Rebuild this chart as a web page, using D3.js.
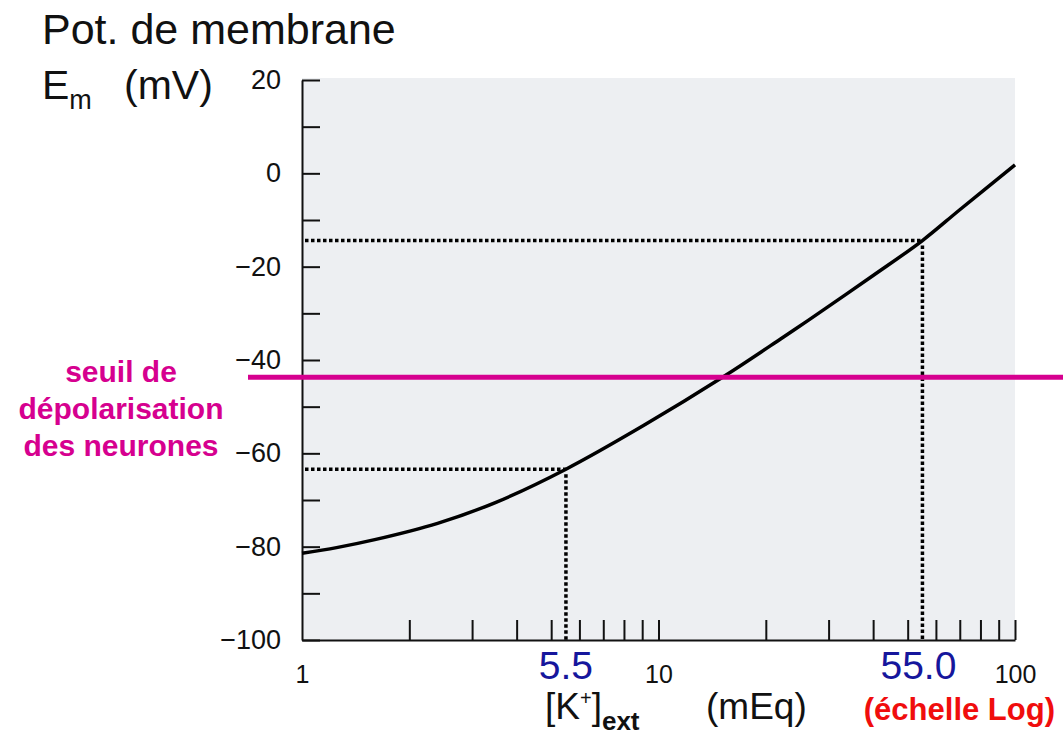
<!DOCTYPE html>
<html>
<head>
<meta charset="utf-8">
<script src="https://cdn.jsdelivr.net/npm/d3@7"></script>
<style>
  body { margin: 0; background: #fff; }
  text { font-family: "Liberation Sans", Arial, Helvetica, sans-serif; }
</style>
</head>
<body>
<svg id="chart" width="1063" height="736"></svg>
<script>
// curve: [K+]ext (mEq) -> Em (mV)
let kExt = [1, 1.25, 1.6, 2.4, 3.5, 5.5, 9.1, 15.2, 22, 26.3, 40, 55, 70, 100];
let emMV = [-81.4, -80.2, -78.5, -75, -70.5, -63.4, -54, -43.6, -35.5, -31.5, -21.9, -14.4, -7.8, 1.8];

// dotted guides
let markK = [5.5, 55];
let markEm = [-63.4, -14.4];
let markLabels = ['5.5', '55.0'];

// threshold
let seuil = -43.7;
let seuilLines = ['seuil de', 'dépolarisation', 'des neurones'];

// ticks
let yTicks = [20, 10, 0, -10, -20, -30, -40, -50, -60, -70, -80, -90, -100];
let yTickLabels = [20, 0, -20, -40, -60, -80, -100];
let xTicks = [1, 2, 3, 4, 5, 6, 7, 8, 9, 10, 20, 30, 40, 50, 60, 70, 80, 90, 100];
let xTickLabels = [1, 10, 100];

let svg = d3.select('#chart');
let [W, H] = [1063, 736];
let plot = {left: 302, right: 1015, top: 80, bottom: 640};

let x = d3.scaleLog().domain([1, 100]).range([plot.left, plot.right]);
let y = d3.scaleLinear().domain([-100, 20]).range([plot.bottom, plot.top]);

// background of the plot
svg.append('rect')
  .attr('x', plot.left).attr('y', plot.top - 2)
  .attr('width', plot.right - plot.left).attr('height', plot.bottom - plot.top + 2)
  .attr('fill', '#edeff2');

// y axis, ticks inward
let yAxis = d3.axisLeft(y)
  .tickValues(yTicks)
  .tickSizeInner(-18).tickSizeOuter(0)
  .tickPadding(21)
  .tickFormat(d => yTickLabels.includes(d) ? d3.format('')(d) : '');
let gy = svg.append('g').attr('transform', `translate(${plot.left},0)`).call(yAxis)
  .attr('font-size', 27).attr('font-family', null);
gy.select('.domain').attr('stroke', '#111').attr('stroke-width', 2);
gy.selectAll('.tick line').attr('stroke', '#111').attr('stroke-width', 2);
gy.selectAll('.tick text').attr('fill', '#111').attr('font-size', 27);

// x axis, ticks inward (up)
let xAxis = d3.axisBottom(x)
  .tickValues(xTicks)
  .tickSizeInner(-20).tickSizeOuter(0)
  .tickPadding(25)
  .tickFormat(d => xTickLabels.includes(d) ? String(d) : '');
let gx = svg.append('g').attr('transform', `translate(0,${plot.bottom})`).call(xAxis)
  .attr('font-size', 25).attr('font-family', null);
gx.select('.domain').attr('stroke', '#111').attr('stroke-width', 2);
gx.selectAll('.tick line').attr('stroke', '#111').attr('stroke-width', 2);
gx.selectAll('.tick line').filter(d => d === 1).remove();
gx.selectAll('.tick text').attr('fill', '#111').attr('font-size', 25);

// dotted guides
let marks = markK.map((k, i) => ({k, em: markEm[i], label: markLabels[i]}));
svg.selectAll('.guideH').data(marks).join('line')
  .attr('class', 'guideH')
  .attr('x1', plot.left + 3).attr('x2', d => x(d.k))
  .attr('y1', d => y(d.em)).attr('y2', d => y(d.em))
  .attr('stroke', '#000').attr('stroke-width', 3.5).attr('stroke-dasharray', '3.5 2.5');
svg.selectAll('.guideV').data(marks).join('line')
  .attr('class', 'guideV')
  .attr('x1', d => x(d.k)).attr('x2', d => x(d.k))
  .attr('y1', d => y(d.em) + 5).attr('y2', plot.bottom)
  .attr('stroke', '#000').attr('stroke-width', 3.5).attr('stroke-dasharray', '3.5 2.5');

// the curve
let pts = kExt.map((k, i) => [k, emMV[i]]);
let line = d3.line().x(d => x(d[0])).y(d => y(d[1])).curve(d3.curveCatmullRom.alpha(0.5));
svg.append('path').datum(pts)
  .attr('d', line)
  .attr('fill', 'none').attr('stroke', '#000').attr('stroke-width', 3.5);

// threshold line
let pink = '#d6008f';
svg.append('line')
  .attr('x1', 248).attr('x2', W)
  .attr('y1', y(seuil)).attr('y2', y(seuil))
  .attr('stroke', pink).attr('stroke-width', 5);

svg.selectAll('.seuil').data(seuilLines).join('text')
  .attr('class', 'seuil')
  .attr('x', 121).attr('y', (d, i) => 382 + i * 37)
  .attr('text-anchor', 'middle')
  .attr('fill', pink).style('font-size', '30px').style('font-weight', 'bold')
  .text(d => d);

// blue values under the guides
svg.selectAll('.markLabel').data(marks).join('text')
  .attr('class', 'markLabel')
  .attr('x', (d, i) => x(d.k) - (i ? 4 : 0)).attr('y', 679)
  .attr('text-anchor', 'middle')
  .attr('fill', '#16169c').style('font-size', '39px')
  .text(d => d.label);

// y title
svg.append('text').attr('x', 42).attr('y', 44)
  .attr('fill', '#111').style('font-size', '43px')
  .text('Pot. de membrane');
let em = svg.append('text').attr('x', 42).attr('y', 99)
  .attr('fill', '#111').style('font-size', '41px');
em.append('tspan').text('E');
em.append('tspan').attr('dy', 10).style('font-size', '27px').text('m');
em.append('tspan').attr('x', 124).attr('dy', -10).text('(mV)');

// x title
let kt = svg.append('text').attr('x', 545).attr('y', 719)
  .attr('fill', '#111').style('font-size', '37px');
kt.append('tspan').text('[K');
kt.append('tspan').attr('dy', -14).style('font-size', '20px').text('+');
kt.append('tspan').attr('dy', 14).text(']');
kt.append('tspan').attr('dy', 11).style('font-size', '26px').style('font-weight', 'bold').text('ext');
svg.append('text').attr('x', 706).attr('y', 719)
  .attr('fill', '#111').style('font-size', '37px')
  .text('(mEq)');
svg.append('text').attr('x', 1055).attr('y', 720)
  .attr('text-anchor', 'end')
  .attr('fill', '#f00d0d').style('font-size', '31px').style('font-weight', 'bold')
  .text('(échelle Log)');
</script>
</body>
</html>
